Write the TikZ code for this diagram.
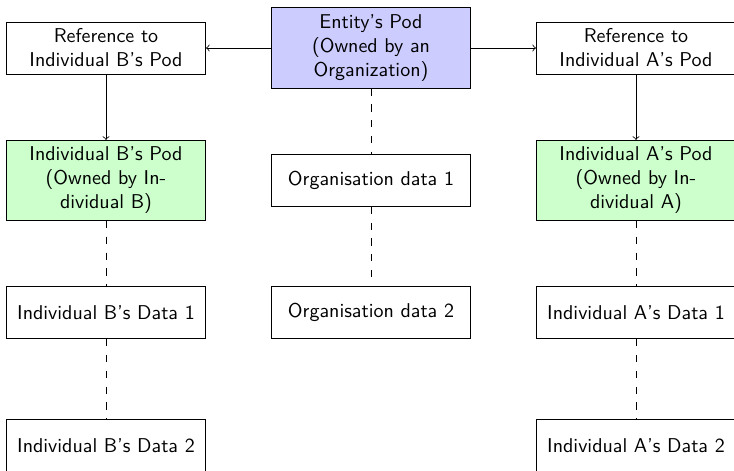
\documentclass[tikz,border=0pt]{standalone}

\tikzset{
  podbox/.style={draw,minimum width=3.5cm,minimum height=26pt,
    align=center,font=\sffamily},
  orgpod/.style={podbox,fill=blue!20},
  ownpod/.style={podbox,fill=green!20},
  holds/.style={dash pattern=on 3.6pt off 4.3pt},
}

\begin{document}
\begin{tikzpicture}[x=66.25pt,y=66.2pt]
  \useasboundingbox (-53pt,24pt) rectangle (314pt,-211.5pt);
  % Organisation column
  \node[orgpod] (entity) at (2,0) {Entity's Pod\\(Owned by an\\Organization)};
  \node[podbox] (org1) at (2,-1) {Organisation data 1};
  \node[podbox] (org2) at (2,-2) {Organisation data 2};
  % Individual B column
  \node[podbox] (refB) at (0,0) {Reference to\\Individual B's Pod};
  \node[ownpod] (podB) at (0,-1) {Individual B's Pod\\(Owned by In-\\dividual B)};
  \node[podbox] (dataB1) at (0,-2) {Individual B's Data 1};
  \node[podbox] (dataB2) at (0,-3) {Individual B's Data 2};
  % Individual A column
  \node[podbox] (refA) at (4,0) {Reference to\\Individual A's Pod};
  \node[ownpod] (podA) at (4,-1) {Individual A's Pod\\(Owned by In-\\dividual A)};
  \node[podbox] (dataA1) at (4,-2) {Individual A's Data 1};
  \node[podbox] (dataA2) at (4,-3) {Individual A's Data 2};
  % References
  \draw[->] (entity) -- (refB);
  \draw[->] (entity) -- (refA);
  \draw[->] (refB) -- (podB);
  \draw[->] (refA) -- (podA);
  % Data held in each pod
  \draw[holds] (entity) -- (org1);
  \draw[holds] (org1) -- (org2);
  \draw[holds] (podB) -- (dataB1);
  \draw[holds] (dataB1) -- (dataB2);
  \draw[holds] (podA) -- (dataA1);
  \draw[holds] (dataA1) -- (dataA2);
\end{tikzpicture}
\end{document}
